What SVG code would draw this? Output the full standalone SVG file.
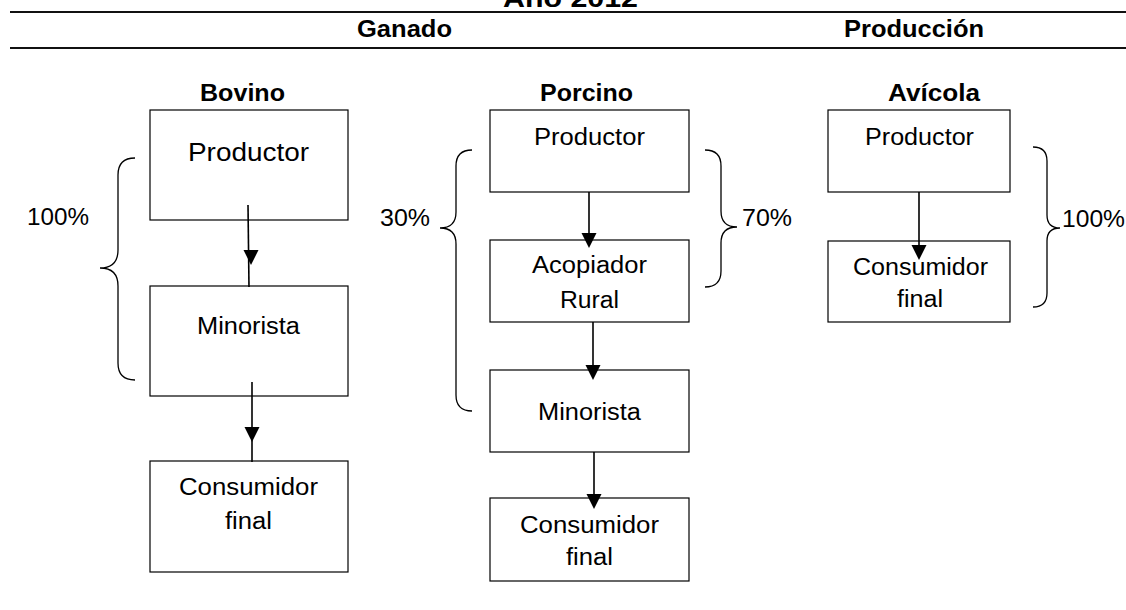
<svg xmlns="http://www.w3.org/2000/svg" xmlns:xlink="http://www.w3.org/1999/xlink" width="1126" height="610" viewBox="0 0 1126 610">
<style>
text{font-family:"Liberation Sans",Arial,sans-serif;fill:#000}
.h{font-weight:bold;font-size:23px}
.t{font-size:23px}
.big{font-size:25.6px}
.box{fill:#fff;stroke:#000;stroke-width:1.2}
.rule{stroke:#111;stroke-width:2}
.ln{stroke:#000;stroke-width:1.6;fill:none}
.br{stroke:#000;stroke-width:1.3;fill:none}
.ah{fill:#000}
</style>
<defs>
<path id="ah" d="M-7.5,-15 L7.5,-15 L0,0 Z"/>
</defs>
<rect width="1126" height="610" fill="#fff"/>
<g id="header">
<line class="rule" x1="10" y1="12" x2="1126" y2="12"/>
<line class="rule" x1="10" y1="48" x2="1126" y2="48"/>
<text class="h" x="503" y="7" textLength="135" lengthAdjust="spacingAndGlyphs" style="font-size:26px">Año 2012</text>
<text class="h" x="357" y="37" textLength="95" lengthAdjust="spacingAndGlyphs">Ganado</text>
<text class="h" x="844" y="37" textLength="140" lengthAdjust="spacingAndGlyphs">Producción</text>
<text class="h" x="200" y="101" textLength="85" lengthAdjust="spacingAndGlyphs">Bovino</text>
<text class="h" x="540" y="101" textLength="93" lengthAdjust="spacingAndGlyphs">Porcino</text>
<text class="h" x="888" y="101" textLength="92" lengthAdjust="spacingAndGlyphs">Avícola</text>
</g>
<g id="bovino-productor">
<rect class="box" x="150" y="110" width="198" height="110"/>
<text class="big" x="188" y="161" textLength="121" lengthAdjust="spacingAndGlyphs">Productor</text>
</g>
<g id="bovino-minorista">
<rect class="box" x="150" y="286" width="198" height="110"/>
<text class="t" x="197" y="334" textLength="103" lengthAdjust="spacingAndGlyphs">Minorista</text>
</g>
<g id="bovino-consumidor">
<rect class="box" x="150" y="461" width="198" height="111"/>
<text class="t" x="179" y="495" textLength="139" lengthAdjust="spacingAndGlyphs">Consumidor</text>
<text class="t" x="225" y="529" textLength="47" lengthAdjust="spacingAndGlyphs">final</text>
</g>
<g id="porcino-productor">
<rect class="box" x="490" y="110" width="199" height="82"/>
<text class="t" x="534" y="145" textLength="111" lengthAdjust="spacingAndGlyphs">Productor</text>
</g>
<g id="porcino-acopiador">
<rect class="box" x="490" y="240" width="199" height="82"/>
<text class="t" x="532" y="273" textLength="115" lengthAdjust="spacingAndGlyphs">Acopiador</text>
<text class="t" x="560" y="308" textLength="59" lengthAdjust="spacingAndGlyphs">Rural</text>
</g>
<g id="porcino-minorista">
<rect class="box" x="490" y="370" width="199" height="82"/>
<text class="t" x="538" y="420" textLength="103" lengthAdjust="spacingAndGlyphs">Minorista</text>
</g>
<g id="porcino-consumidor">
<rect class="box" x="490" y="498" width="199" height="83"/>
<text class="t" x="520" y="533" textLength="139" lengthAdjust="spacingAndGlyphs">Consumidor</text>
<text class="t" x="566" y="565" textLength="47" lengthAdjust="spacingAndGlyphs">final</text>
</g>
<g id="avicola-productor">
<rect class="box" x="828" y="110" width="182" height="82"/>
<text class="t" x="865" y="145" textLength="109" lengthAdjust="spacingAndGlyphs">Productor</text>
</g>
<g id="avicola-consumidor">
<rect class="box" x="828" y="241" width="182" height="81"/>
<text class="t" x="853" y="275" textLength="135" lengthAdjust="spacingAndGlyphs">Consumidor</text>
<text class="t" x="897" y="307" textLength="46" lengthAdjust="spacingAndGlyphs">final</text>
</g>
<g id="connectors">
<line class="ln" x1="248" y1="205" x2="249" y2="287"/>
<use xlink:href="#ah" class="ah" x="251" y="265"/>
<line class="ln" x1="252" y1="382" x2="252" y2="462"/>
<use xlink:href="#ah" class="ah" x="252" y="442"/>
<line class="ln" x1="589" y1="192" x2="589" y2="246"/>
<use xlink:href="#ah" class="ah" x="589" y="248"/>
<line class="ln" x1="593" y1="322" x2="593" y2="378"/>
<use xlink:href="#ah" class="ah" x="593" y="380"/>
<line class="ln" x1="594" y1="452" x2="594" y2="507"/>
<use xlink:href="#ah" class="ah" x="594" y="509"/>
<line class="ln" x1="919" y1="192" x2="919" y2="258"/>
<use xlink:href="#ah" class="ah" x="919" y="260"/>
</g>
<g id="braces">
<path class="br" d="M135,158 Q118,158 118,175 L118,250 Q118,268 100,268 Q118,268 118,286 L118,363 Q118,380 135,380"/>
<text class="t" x="27" y="225" textLength="62" lengthAdjust="spacingAndGlyphs">100%</text>
<path class="br" d="M472,150 Q456,150 456,166 L456,212 Q456,228 440,228 Q456,228 456,244 L456,395 Q456,411 472,411"/>
<text class="t" x="380" y="226" textLength="50" lengthAdjust="spacingAndGlyphs">30%</text>
<path class="br" d="M705,150 Q721,150 721,166 L721,211 Q721,227 737,227 Q721,227 721,243 L721,271 Q721,287 705,287"/>
<text class="t" x="742" y="226" textLength="50" lengthAdjust="spacingAndGlyphs">70%</text>
<path class="br" d="M1033,147 Q1047,147 1047,161 L1047,215 Q1047,228 1060,228 Q1047,228 1047,241 L1047,293 Q1047,307 1033,307"/>
<text class="t" x="1062" y="227" textLength="63" lengthAdjust="spacingAndGlyphs">100%</text>
</g>
</svg>
